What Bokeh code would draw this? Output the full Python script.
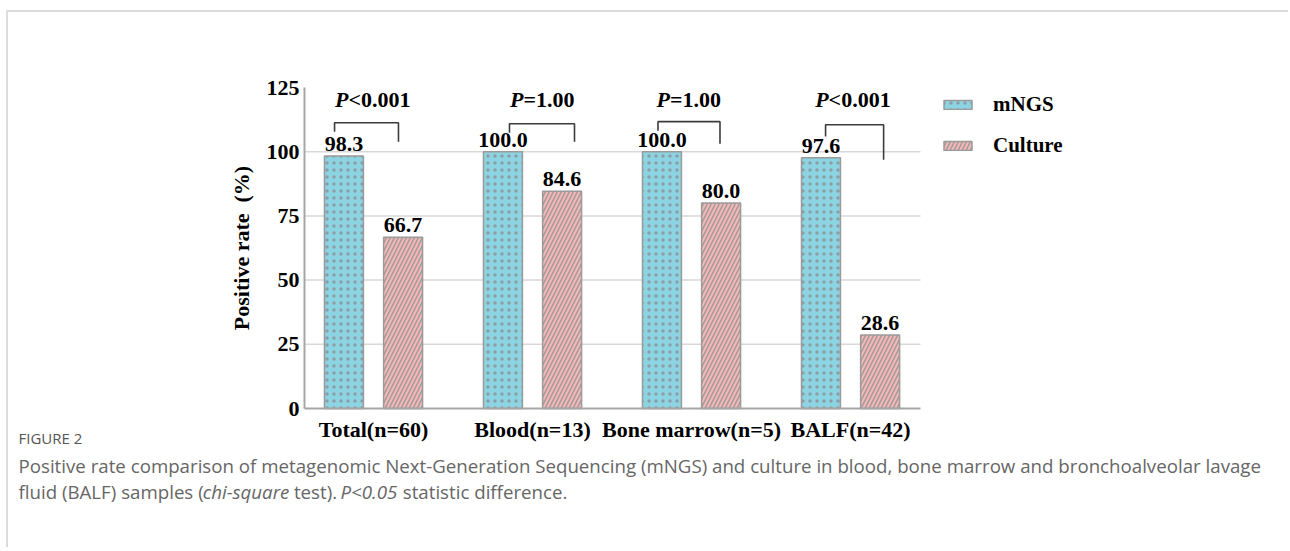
from bokeh.plotting import figure
from bokeh.models import ColumnDataSource, FixedTicker, Legend, LegendItem, Label, Range1d
from bokeh.embed import file_html
from bokeh.resources import INLINE
from bokeh.core.properties import value

# ---------------- data ----------------
groups = ["Total(n=60)", "Blood(n=13)", "Bone marrow(n=5)", "BALF(n=42)"]
mngs = [98.3, 100.0, 100.0, 97.6]
culture = [66.7, 84.6, 80.0, 28.6]
p_text = ["<0.001", "=1.00", "=1.00", "<0.001"]
y_ticks = [0, 25, 50, 75, 100, 125]
grid_ticks = [25, 50, 75, 100]
series = ["mNGS", "Culture"]

# ---------------- layout / style constants ----------------
W, H = 1282, 537
OX, OY = 8, 12                       # canvas origin on the page
X0, X1 = -0.434, 3.440               # axis extent (data)
Y0, Y1 = 0, 125
AXL, AXR, AXT, AXB = 304, 920, 87, 408   # axis box on the page (px)
U = (X1 - X0) / (AXR - AXL)
V = (Y1 - Y0) / (AXB - AXT)


def px_x(px):   # page x pixel -> data x
    return X0 + (px - AXL) * U


def py_y(py):   # page y pixel -> data y
    return Y0 + (AXB - py) * V


CX0, CX1 = px_x(OX), px_x(OX + W)
CY0, CY1 = py_y(OY + H), py_y(OY)

BAR_W = 0.245
DODGE = 0.186
GAP = 12 * V                          # label centre above bar top
BLUE = "#8dd4e3"
PINK = "#f7b7b7"
SERIF = "Liberation Serif"
# bracket geometry per group: (left dx, right dx, top, left-arm bottom, right-arm bottom)
brackets = [(-0.245, 0.157, 111.3, 107.8, 103.9),
            (-0.145, 0.264, 110.9, 107.4, 103.9),
            (-0.211, 0.179, 111.7, 108.2, 103.1),
            (-0.157, 0.208, 110.5, 105.9, 96.9)]
p_anchor = [-0.157, -0.057, -0.135, -0.138]

idx = list(range(len(groups)))
xm = [i - DODGE for i in idx]
xc = [i + DODGE for i in idx]

p = figure(width=W, height=H, output_backend="svg", toolbar_location=None,
           x_range=Range1d(CX0, CX1), y_range=Range1d(CY0, CY1),
           min_border=0, min_border_left=0, min_border_right=0,
           min_border_top=0, min_border_bottom=0)
p.outline_line_color = None
p.background_fill_color = "white"
p.border_fill_color = "white"
p.styles = {"margin-top": "10px", "margin-left": "6px",
            "border-top": "2px solid #dcdcdc", "border-left": "2px solid #dcdcdc"}

# grid lines (only across the axis box)
p.xgrid.visible = False
p.ygrid.visible = False
p.segment(x0=[X0] * len(grid_ticks), x1=[X1] * len(grid_ticks), y0=grid_ticks, y1=grid_ticks,
          line_color="#d9d9d9", line_width=1.5, level="underlay")

src_m = ColumnDataSource(dict(x=xm, top=mngs, lab=[f"{v:.1f}" for v in mngs],
                              ly=[v + GAP for v in mngs]))
src_c = ColumnDataSource(dict(x=xc, top=culture, lab=[f"{v:.1f}" for v in culture],
                              ly=[v + GAP for v in culture]))

r1 = p.vbar(x="x", top="top", width=BAR_W, source=src_m, fill_color=BLUE,
            line_color="#9a9a9a", line_width=1.5,
            hatch_pattern="dot", hatch_color="#8a9ea4", hatch_scale=7, hatch_weight=1.1)
r2 = p.vbar(x="x", top="top", width=BAR_W, source=src_c, fill_color=PINK,
            line_color="#9a9a9a", line_width=1.5,
            hatch_pattern="right_diagonal_line", hatch_color="#a09a9a",
            hatch_scale=8, hatch_weight=1.5)

for src in (src_m, src_c):
    p.text(x="x", y="ly", text="lab", source=src, text_align="center",
           text_baseline="middle",
           text_font=value(SERIF), text_font_style="bold", text_font_size="22px",
           text_color="black")

# significance brackets
xs, ys = [], []
for i, (dl, dr, top, lb, rb) in enumerate(brackets):
    xs.append([i + dl, i + dl, i + dr, i + dr])
    ys.append([lb, top, top, rb])
p.multi_line(xs=xs, ys=ys, line_color="#3c3c3c", line_width=1.6)

# P labels
ax = [i + d for i, d in zip(idx, p_anchor)]
p.text(x=ax, y=[120.2] * 4, text=["P"] * 4, text_align="right", text_baseline="middle",
       text_font=value(SERIF), text_font_style="bold italic", text_font_size="22px",
       text_color="black")
p.text(x=ax, y=[120.2] * 4, text=p_text, text_align="left", text_baseline="middle",
       text_font=value(SERIF), text_font_style="bold", text_font_size="22px",
       text_color="black")

# axes drawn at fixed locations inside the canvas
p.xaxis.ticker = FixedTicker(ticks=idx)
p.xaxis.major_label_overrides = {i: g for i, g in zip(idx, groups)}
p.xaxis.fixed_location = Y0
p.xaxis.bounds = (X0, X1)
p.yaxis.ticker = FixedTicker(ticks=y_ticks)
p.yaxis.fixed_location = X0
p.yaxis.bounds = (Y0, Y1)
for a in (p.xaxis, p.yaxis):
    a.axis_line_color = "#a6a6a6"
    a.axis_line_width = 2
    a.major_tick_line_color = None
    a.minor_tick_line_color = None
    a.major_tick_out = 0
    a.major_tick_in = 0
    a.major_label_text_font = SERIF
    a.major_label_text_font_style = "bold"
    a.major_label_text_font_size = "22px"
    a.major_label_text_color = "black"
p.xaxis.major_label_standoff = 8
p.yaxis.major_label_standoff = 5
p.yaxis.axis_label = "Positive rate\u00a0 (%)"
p.yaxis.axis_label_text_font = SERIF
p.yaxis.axis_label_text_font_style = "bold"
p.yaxis.axis_label_text_font_size = "22px"
p.yaxis.axis_label_text_color = "black"
p.yaxis.axis_label_standoff = 10

LEG_H = 64
legend = Legend(items=[LegendItem(label=series[0], renderers=[r1]),
                       LegendItem(label=series[1], renderers=[r2])],
                location=(940 - OX, H - (94 - OY) - LEG_H), orientation="vertical",
                glyph_width=35, glyph_height=11, label_height=24, spacing=16,
                padding=0, margin=0, label_standoff=18,
                border_line_color=None, background_fill_alpha=0,
                label_text_font=SERIF, label_text_font_style="bold",
                label_text_font_size="21px", label_text_color="black")
p.add_layout(legend, "center")

# caption
CAP = "Open Sans"
CAP_SIZE = 18.7
p.add_layout(Label(x=px_x(18), y=py_y(437), text="FIGURE 2",
                   text_baseline="middle", text_font=CAP, text_font_size="15px",
                   text_color="#555555"))
p.add_layout(Label(x=px_x(18), y=py_y(465),
                   text="Positive rate comparison of metagenomic Next-Generation Sequencing "
                        "(mNGS) and culture in blood, bone marrow and bronchoalveolar lavage",
                   text_baseline="middle", text_font=CAP, text_font_size=f"{CAP_SIZE}px",
                   text_color="#666666"))
# second caption line: segments laid end to end (advance in em, spaces included)
segs = [("fluid (BALF) samples (", "normal", 9.85),
        ("chi-square", "italic", 4.88),
        ("test).", "normal", 2.49),
        ("P<0.05", "italic", 3.33),
        ("statistic difference.", "normal", 0.0)]
cur = 18.0
for t, st, em in segs:
    p.add_layout(Label(x=px_x(cur), y=py_y(491), text=t,
                       text_baseline="middle", text_font=CAP, text_font_size=f"{CAP_SIZE}px",
                       text_font_style=st, text_color="#666666"))
    cur += em * CAP_SIZE

open("out.html", "w").write(file_html(p, INLINE))
